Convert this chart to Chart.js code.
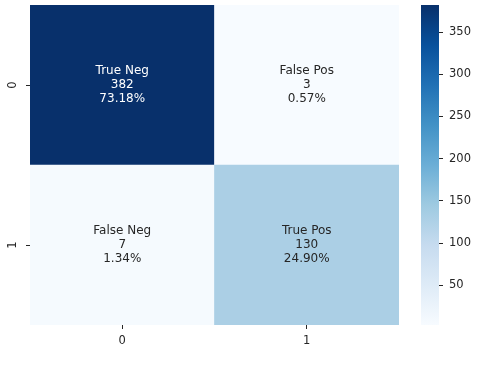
<!DOCTYPE html>
<html>
<head>
<meta charset="utf-8">
<script src="https://cdn.jsdelivr.net/npm/chart.js@4"></script>
<style>
  body { margin: 0; background: #fff; }
  #wrap { width: 480px; height: 366px; position: relative; }
</style>
</head>
<body>
<div id="wrap"><canvas id="cm"></canvas></div>
<script>
// Matriz de confusão (linhas = real, colunas = previsto)
const classes = ["0", "1"];
const cellNames = [["True Neg", "False Pos"], ["False Neg", "True Pos"]];
const counts = [[382, 3], [7, 130]];
const percents = [["73.18%", "0.57%"], ["1.34%", "24.90%"]];
const cbarTicks = [50, 100, 150, 200, 250, 300, 350];
const cbarMin = 3, cbarMax = 382;

// paleta "Blues" do matplotlib
const blues = ["#f7fbff", "#deebf7", "#c6dbef", "#9ecae1", "#6baed6", "#4292c6", "#2171b5", "#08519c", "#08306b"];

function hexRgb(h) {
  return [parseInt(h.slice(1, 3), 16), parseInt(h.slice(3, 5), 16), parseInt(h.slice(5, 7), 16)];
}
function cor(v) {
  let t = (v - cbarMin) / (cbarMax - cbarMin);
  t = Math.max(0, Math.min(1, t)) * (blues.length - 1);
  const i = Math.min(Math.floor(t), blues.length - 2);
  const f = t - i;
  const a = hexRgb(blues[i]), b = hexRgb(blues[i + 1]);
  return a.map((c, k) => Math.round(c + (b[k] - c) * f));
}
function luminancia(rgb) {
  const l = rgb.map(c => {
    c = c / 255;
    return c <= 0.03928 ? c / 12.92 : Math.pow((c + 0.055) / 1.055, 2.4);
  });
  return 0.2126 * l[0] + 0.7152 * l[1] + 0.0722 * l[2];
}
const rgbStr = c => "rgb(" + c.join(",") + ")";

// linha "1" embaixo, linha "0" em cima (empilhado)
const linhas = [1, 0];
const datasets = linhas.map(r => ({
  label: classes[r],
  data: classes.map(() => 1),
  backgroundColor: counts[r].map(v => rgbStr(cor(v))),
  borderWidth: 0,
  barPercentage: 1,
  categoryPercentage: 1
}));

const fonte = "DejaVu Sans";

const anotacoes = {
  id: "anotacoes",
  afterDatasetsDraw(chart) {
    const ctx = chart.ctx;
    ctx.save();
    ctx.font = "12px '" + fonte + "'";
    ctx.textAlign = "center";
    ctx.textBaseline = "middle";
    chart.data.datasets.forEach((ds, di) => {
      const r = linhas[di];
      chart.getDatasetMeta(di).data.forEach((bar, j) => {
        const cy = (bar.y + bar.base) / 2;
        const v = counts[r][j];
        ctx.fillStyle = luminancia(cor(v)) > 0.408 ? "#262626" : "#ffffff";
        const txt = [cellNames[r][j], String(v), percents[r][j]];
        txt.forEach((t, k) => ctx.fillText(t, bar.x, cy + (k - 1) * 14));
      });
    });
    ctx.restore();
  }
};

const colorbar = {
  id: "colorbar",
  afterDraw(chart) {
    const s = chart.scales.cb;
    const ctx = chart.ctx;
    const x0 = s.left - 18;
    const g = ctx.createLinearGradient(0, s.bottom, 0, s.top);
    blues.forEach((c, i) => g.addColorStop(i / (blues.length - 1), c));
    ctx.save();
    ctx.fillStyle = g;
    ctx.fillRect(x0, s.top, 18, s.bottom - s.top);
    ctx.restore();
  }
};

function semPadding(s) {
  s.paddingTop = 0;
  s.paddingBottom = 0;
  s.paddingLeft = 0;
  s.paddingRight = 0;
}

new Chart(document.getElementById("cm"), {
  type: "bar",
  data: { labels: classes, datasets: datasets },
  plugins: [anotacoes, colorbar],
  options: {
    responsive: true,
    maintainAspectRatio: false,
    animation: false,
    layout: { padding: { top: 5, left: 0, right: 0, bottom: 0 } },
    plugins: { legend: { display: false }, tooltip: { enabled: false } },
    scales: {
      x: {
        stacked: true,
        grid: { display: true, offset: false, drawOnChartArea: false, tickLength: 4, color: "#262626" },
        border: { display: false },
        ticks: { color: "#262626", font: { family: fonte, size: 11.5 }, padding: 5 },
        afterFit: s => { semPadding(s); s.height = 41; }
      },
      y: {
        stacked: true,
        min: 0,
        max: 2,
        grid: { display: true, drawOnChartArea: false, tickLength: 4, color: "#262626" },
        border: { display: false },
        afterBuildTicks: s => { s.ticks = [{ value: 0.5 }, { value: 1.5 }]; },
        ticks: {
          color: "#262626",
          font: { family: fonte, size: 11.5 },
          minRotation: 90,
          maxRotation: 90,
          crossAlign: "center",
          padding: 9,
          callback: v => (v > 1 ? classes[0] : classes[1])
        },
        afterFit: s => { semPadding(s); s.width = 30; }
      },
      gap: {
        type: "linear",
        position: "right",
        weight: 1,
        min: 0,
        max: 1,
        grid: { display: false },
        border: { display: false },
        ticks: { display: false },
        afterFit: s => { semPadding(s); s.width = 40; }
      },
      cb: {
        type: "linear",
        position: "right",
        weight: 2,
        min: cbarMin,
        max: cbarMax,
        grid: { display: true, drawOnChartArea: false, tickLength: 4, color: "#262626" },
        border: { display: false },
        afterBuildTicks: s => { s.ticks = cbarTicks.map(v => ({ value: v })); },
        ticks: { color: "#262626", font: { family: fonte, size: 11.5 }, padding: 6 },
        afterFit: s => { semPadding(s); s.width = 41; }
      }
    }
  }
});
</script>
</body>
</html>
